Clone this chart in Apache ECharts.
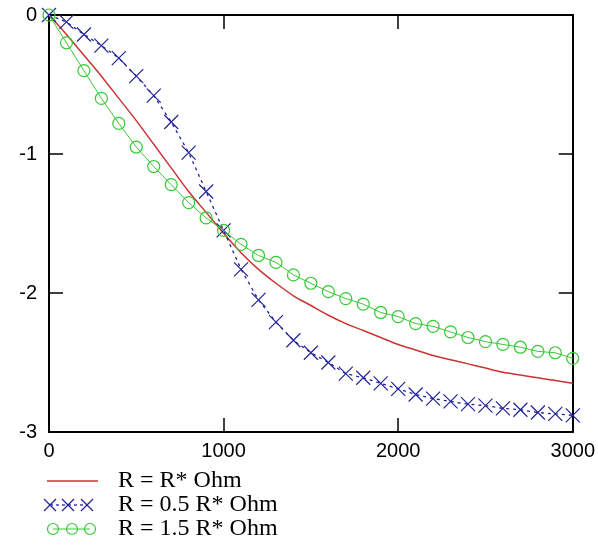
<!DOCTYPE html>
<html>
<head>
<meta charset="utf-8">
<script src="https://cdn.jsdelivr.net/npm/echarts@6/dist/echarts.min.js"></script>
<style>
html,body{margin:0;padding:0;background:#fff;}
#chart{width:598px;height:556px;}
</style>
</head>
<body>
<div id="chart"></div>
<script>
// ---- data ----
var xValues = [0,100,200,300,400,500,600,700,800,900,1000,1100,1200,1300,1400,1500,1600,1700,1800,1900,2000,2100,2200,2300,2400,2500,2600,2700,2800,2900,3000];
var rNominal = [0,-0.14,-0.29,-0.44,-0.60,-0.76,-0.93,-1.10,-1.27,-1.42,-1.57,-1.71,-1.83,-1.93,-2.02,-2.09,-2.16,-2.22,-2.27,-2.32,-2.37,-2.41,-2.45,-2.48,-2.51,-2.54,-2.57,-2.59,-2.61,-2.63,-2.65];
var rHalf = [0,-0.05,-0.14,-0.22,-0.31,-0.44,-0.58,-0.77,-0.99,-1.27,-1.55,-1.83,-2.05,-2.21,-2.34,-2.43,-2.50,-2.58,-2.61,-2.65,-2.69,-2.73,-2.76,-2.78,-2.80,-2.81,-2.83,-2.84,-2.86,-2.87,-2.88];
var rOneHalf = [0,-0.20,-0.40,-0.60,-0.78,-0.95,-1.09,-1.22,-1.35,-1.46,-1.55,-1.65,-1.73,-1.78,-1.87,-1.93,-1.99,-2.04,-2.08,-2.14,-2.17,-2.22,-2.24,-2.28,-2.32,-2.35,-2.37,-2.39,-2.42,-2.43,-2.47];
var seriesNames = ['R = R* Ohm','R = 0.5 R* Ohm','R = 1.5 R* Ohm'];
var xTicks = {min:0, max:3000, interval:1000};
var yTicks = {min:-3, max:0, interval:1};

function pairs(ys){ return xValues.map(function(x,i){ return [x, ys[i]]; }); }

var RED = '#cc3333', BLUE = '#22229a', GREEN = '#36c936';
var tickFont = '"Liberation Sans",Arial,sans-serif';
var serif = '"Liberation Serif","Times New Roman",serif';
var XPATH = 'path://M0,0L10,10M10,0L0,10';

var axisLine = {show:true, onZero:false, lineStyle:{color:'#000', width:2}};
var axisTick = {show:true, inside:true, length:14, lineStyle:{color:'#000', width:1.5}};
function plain(v){ return String(v); }

// legend drawn with graphic elements
var legendX = 47, legendTextX = 118, rowY = [481, 505, 529];
var g = [];
g.push({type:'line', shape:{x1:legendX, y1:rowY[0], x2:legendX+51, y2:rowY[0]}, style:{stroke:RED, lineWidth:1.5}});
g.push({type:'line', shape:{x1:legendX+3, y1:rowY[1], x2:legendX+41, y2:rowY[1]}, style:{stroke:BLUE, lineWidth:1.3, lineDash:[3,3]}});
[50,68,87].forEach(function(cx){
  g.push({type:'line', shape:{x1:cx-6, y1:rowY[1]-6, x2:cx+6, y2:rowY[1]+6}, style:{stroke:BLUE, lineWidth:1.2}});
  g.push({type:'line', shape:{x1:cx-6, y1:rowY[1]+6, x2:cx+6, y2:rowY[1]-6}, style:{stroke:BLUE, lineWidth:1.2}});
});
g.push({type:'line', shape:{x1:53, y1:rowY[2], x2:90, y2:rowY[2]}, style:{stroke:GREEN, lineWidth:1}});
[53,72,90].forEach(function(cx){
  g.push({type:'circle', shape:{cx:cx, cy:rowY[2], r:5.5}, style:{fill:'none', stroke:GREEN, lineWidth:1.2}});
});
seriesNames.forEach(function(n,i){
  g.push({type:'text', x:legendTextX, y:rowY[i], style:{text:n, font:'24px '+serif, fill:'#000', verticalAlign:'middle', textAlign:'left'}});
});

var chart = echarts.init(document.getElementById('chart'), null, {renderer:'canvas'});
chart.setOption({
  animation:false,
  backgroundColor:'#fff',
  grid:{left:49, top:15, right:25, bottom:124, containLabel:false},
  xAxis:[
    {type:'value', position:'bottom', min:xTicks.min, max:xTicks.max, interval:xTicks.interval,
     axisLine:axisLine, axisTick:axisTick, splitLine:{show:false},
     axisLabel:{show:true, margin:9, color:'#000', fontFamily:tickFont, fontSize:20, formatter:plain}},
    {type:'value', position:'top', min:xTicks.min, max:xTicks.max, interval:xTicks.interval,
     axisLine:axisLine, axisTick:axisTick, splitLine:{show:false}, axisLabel:{show:false}}
  ],
  yAxis:[
    {type:'value', position:'left', min:yTicks.min, max:yTicks.max, interval:yTicks.interval,
     axisLine:axisLine, axisTick:axisTick, splitLine:{show:false},
     axisLabel:{show:true, margin:12, color:'#000', fontFamily:tickFont, fontSize:20, padding:[7,0,0,0], formatter:plain}},
    {type:'value', position:'right', min:yTicks.min, max:yTicks.max, interval:yTicks.interval,
     axisLine:axisLine, axisTick:axisTick, splitLine:{show:false}, axisLabel:{show:false}}
  ],
  series:[
    {name:seriesNames[0], type:'line', data:pairs(rNominal), showSymbol:false, symbol:'none',
     smooth:0.3,
     lineStyle:{color:RED, width:1.5}, itemStyle:{color:RED}, z:3},
    {name:seriesNames[1], type:'line', data:pairs(rHalf), symbol:XPATH, symbolSize:14,
     lineStyle:{color:BLUE, width:1.3, type:[3,4]},
     itemStyle:{color:'rgba(0,0,0,0)', borderColor:BLUE, borderWidth:1.2}, z:4},
    {name:seriesNames[2], type:'line', data:pairs(rOneHalf), symbol:'circle', symbolSize:12,
     lineStyle:{color:GREEN, width:1},
     itemStyle:{color:'rgba(0,0,0,0)', borderColor:GREEN, borderWidth:1.2}, z:5}
  ],
  graphic:g
});
</script>
</body>
</html>
